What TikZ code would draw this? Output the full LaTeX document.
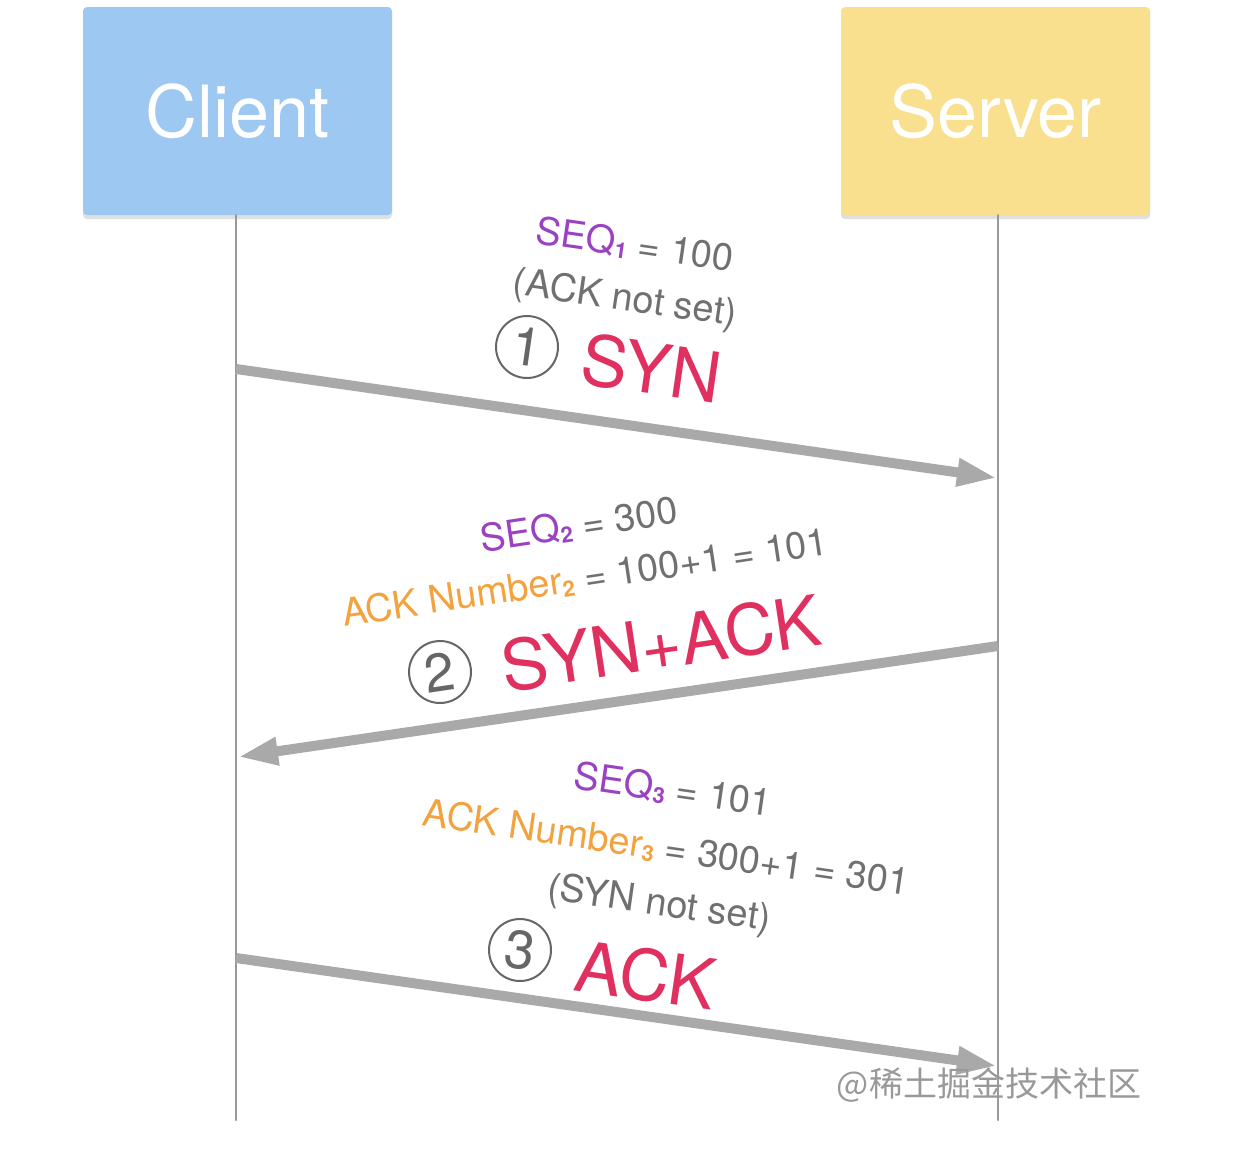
\documentclass[tikz,border=0pt]{standalone}
\usepackage{fontspec}
\setmainfont{TeX Gyre Heros}
\newfontfamily\cjkfont{Noto Sans CJK SC}
\usetikzlibrary{arrows.meta,shadows}
\definecolor{clientblue}{HTML}{9DC8F1}
\definecolor{serveryellow}{HTML}{F8E08E}
\definecolor{seqpurple}{HTML}{9B42C2}
\definecolor{ackorange}{HTML}{F2A23E}
\definecolor{flagred}{HTML}{E0305F}
\definecolor{notegray}{HTML}{707070}
\definecolor{shaftgray}{HTML}{A9A9A9}
\newcommand{\idx}[1]{\raisebox{-0.08em}{\fontsize{22}{22}\selectfont\bfseries #1}}

\begin{document}
\begin{tikzpicture}[x=1pt,y=-1pt,line cap=round,line join=round,
    hostbox/.style={rectangle,rounded corners=4pt,minimum width=309pt,minimum height=208pt,inner sep=0pt,text=white,font=\fontsize{72}{80}\selectfont,drop shadow={shadow xshift=0pt,shadow yshift=-4pt,opacity=0.25}},
    lifeline/.style={draw=black!40,line width=2pt},
    msgarrow/.style={draw=shaftgray,line width=10pt,line cap=butt,-{Triangle[length=40pt,width=26pt]}},
    smalltext/.style={text=notegray,font=\fontsize{38}{40}\selectfont,inner sep=0pt},
    flagtext/.style={text=flagred,font=\fontsize{70}{74}\selectfont,inner sep=0pt},
    stepcirc/.style={circle,draw=black!60,line width=2pt,minimum size=62pt,inner sep=0pt,text=black!60,font=\fontsize{54}{54}\selectfont}]
\useasboundingbox (0,0) rectangle (1252,1162);

\node[hostbox,fill=clientblue] (client) at (237.5,111) {Client};
\node[hostbox,fill=serveryellow] (server) at (995.5,111) {Server};

\coordinate (clientend) at (236,1120);
\coordinate (serverend) at (998,1120);
\draw[lifeline] (client.south -| clientend) -- (clientend);
\draw[lifeline] (server.south -| serverend) -- (serverend);

\coordinate (c1) at (236,369);
\coordinate (s1) at (997,478);
\coordinate (s2) at (998,646);
\coordinate (c2) at (238,757);
\coordinate (c3) at (236,958);
\coordinate (s3) at (997,1066);
\draw[msgarrow] (c1) -- (s1);
\draw[msgarrow] (s2) -- (c2);
\draw[msgarrow] (c3) -- (s3);

% SYN
\node[smalltext,rotate=-8.2] (seq1) at (635,245) {\textcolor{seqpurple}{SEQ\idx{1}} = 100};
\node[smalltext,rotate=-8.2] (note1) at (625,300) {(ACK not set)};
\node[stepcirc,rotate=-8.2] (step1) at (527,347) {1};
\node[flagtext,rotate=-8.2] (syn) at (652,368) {SYN};

% SYN+ACK
\node[smalltext,rotate=8.5] (seq2) at (579,525) {\textcolor{seqpurple}{SEQ\idx{2}} = 300};
\node[smalltext,rotate=8.5] (ack2) at (585,578) {\textcolor{ackorange}{ACK Number\idx{2}} = 100+1 = 101};
\node[stepcirc,rotate=8.5] (step2) at (440,672) {2};
\node[flagtext,rotate=8.5] (synack) at (661,643) {SYN+ACK};

% ACK
\node[smalltext,rotate=-8.2] (seq3) at (673,790) {\textcolor{seqpurple}{SEQ\idx{3}} = 101};
\node[smalltext,rotate=-8.2] (ack3) at (666,848) {\textcolor{ackorange}{ACK Number\idx{3}} = 300+1 = 301};
\node[smalltext,rotate=-8.2] (note3) at (659,905) {(SYN not set)};
\node[stepcirc,rotate=-8.2] (step3) at (520,950) {3};
\node[flagtext,rotate=-8.2] (ack) at (646,975) {ACK};

\node[text=black!40,font=\cjkfont\fontsize{34}{36}\selectfont,inner sep=0pt] (mark) at (989,1085) {@稀土掘金技术社区};
\end{tikzpicture}
\end{document}
